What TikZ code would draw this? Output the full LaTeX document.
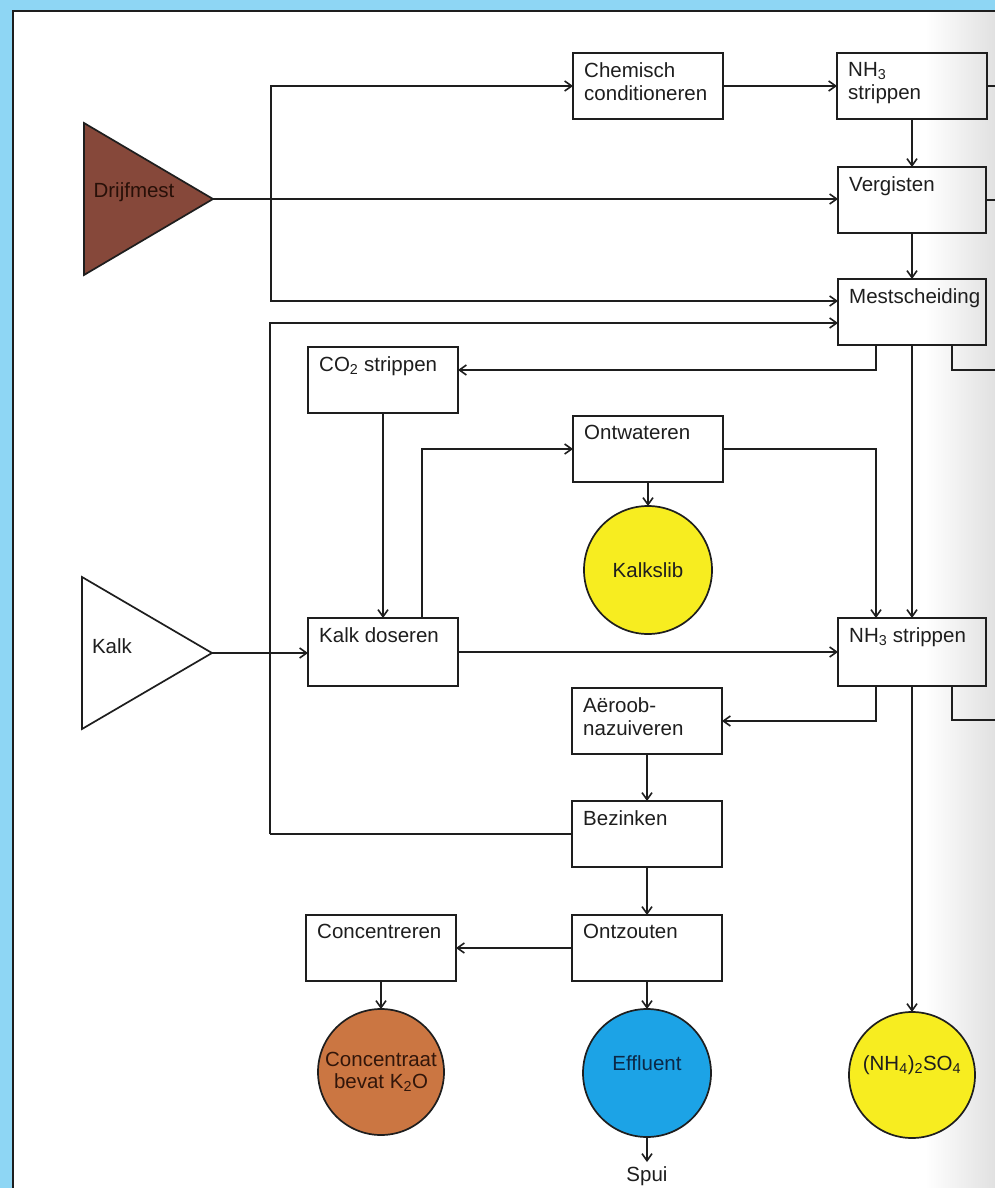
\documentclass[tikz,border=0pt]{standalone}
\usepackage{fontspec}
\setmainfont{Liberation Sans}
\usetikzlibrary{arrows.meta}
\definecolor{sky}{RGB}{142,214,244}
\definecolor{mestbrown}{RGB}{134,72,58}
\definecolor{slibyellow}{RGB}{247,237,32}
\definecolor{concorange}{RGB}{203,118,66}
\definecolor{effblue}{RGB}{28,163,230}
\definecolor{ink}{RGB}{30,30,30}
\tikzset{
  procbox/.style={draw=ink, line width=1.7pt, rectangle, inner sep=0pt, outer sep=0pt,
    minimum width=150pt, minimum height=66pt},
  lbl/.style={anchor=north west, inner sep=0pt, xshift=11pt, yshift=-9pt, align=left,
    font=\fontsize{20.5}{23.5}\selectfont, text=ink},
  blob/.style={draw=ink, line width=1.7pt, circle, inner sep=0pt, outer sep=0pt,
    minimum size=127pt, align=center, font=\fontsize{20.5}{22}\selectfont},
  txt/.style={inner sep=0pt, font=\fontsize{20.5}{23.5}\selectfont, text=ink},
  conn/.style={draw=ink, line width=1.6pt},
  arr/.style={conn, -{Straight Barb[length=7pt,width=10pt]}},
}
\begin{document}
\begin{tikzpicture}[x=1pt,y=-1pt]
\useasboundingbox (0,0) rectangle (995,1188);
\clip (0,0) rectangle (995,1188);
% page background
\fill[sky] (0,0) rectangle (995,1188);
\fill[white] (13,11) rectangle (1010,1200);
\shade[left color=white, right color=black!12] (925,11) rectangle (996,1200);
\draw[line width=1.8pt, ink] (13,1200) -- (13,11) -- (1010,11);

% sources
\draw[line width=1.7pt, draw=ink, fill=mestbrown] (84,123) -- (213,199) -- (84,275) -- cycle;
\coordinate (drtip) at (213,199);
\node[txt, text={rgb,255:red,40;green,16;blue,8}] (drt) at (134,192) {Drijfmest};
\draw[line width=1.7pt, draw=ink, fill=white] (82,577) -- (212,653) -- (82,729) -- cycle;
\coordinate (ktip) at (212,653);
\node[txt] (kt) at (112,646) {Kalk};

% process boxes
\node[procbox, label={[lbl]north west:{Chemisch\\conditioneren}}] (chem) at (648,86) {};
\node[procbox, label={[lbl]north west:{NH\textsubscript{3}\\strippen}}] (nhA) at (912,86) {};
\node[procbox, minimum width=148pt, label={[lbl]north west:{Vergisten}}] (verg) at (912,200) {};
\node[procbox, minimum width=148pt, label={[lbl]north west:{Mestscheiding}}] (mest) at (912,312) {};
\node[procbox, label={[lbl]north west:{CO\textsubscript{2} strippen}}] (co2) at (383,380) {};
\node[procbox, label={[lbl]north west:{Ontwateren}}] (ontw) at (648,449) {};
\node[procbox, minimum height=68pt, label={[lbl]north west:{Kalk doseren}}] (kdos) at (383,652) {};
\node[procbox, minimum width=148pt, minimum height=68pt, label={[lbl]north west:{NH\textsubscript{3} strippen}}] (nhB) at (912,652) {};
\node[procbox, label={[lbl]north west:{Aëroob-\\nazuiveren}}] (aer) at (647,721) {};
\node[procbox, label={[lbl]north west:{Bezinken}}] (bez) at (647,834) {};
\node[procbox, label={[lbl]north west:{Ontzouten}}] (ontz) at (647,948) {};
\node[procbox, label={[lbl]north west:{Concentreren}}] (conc) at (381,948) {};

% products
\node[blob, fill=slibyellow, minimum size=128pt, text=ink] (kslib) at (648,570) {Kalkslib};
\node[blob, fill=concorange, minimum size=126pt, text={rgb,255:red,50;green,22;blue,10}] (concz) at (381,1072) {Concentraat\\bevat K\textsubscript{2}O};
\node[blob, fill=effblue, minimum size=128pt] (effl) at (647,1073) {};
\node[txt, text={rgb,255:red,12;green,40;blue,70}] (efft) at (647,1063) {Effluent};
\node[blob, fill=slibyellow, minimum size=126pt] (nh4) at (912,1075) {};
\node[txt] (nh4t) at (912,1065) {(NH\textsubscript{4})\textsubscript{2}SO\textsubscript{4}};
\node[txt, anchor=north] (spui) at (647,1166) {Spui};

% junctions and edges
\coordinate (jA) at (271,199);
\coordinate (jB) at (270,834);
\coordinate (edgeA) at (1000,370);
\coordinate (edgeB) at (1000,720);

% connectors
\draw[arr] (drtip) -- (drtip -| verg.west);
\draw[arr] (jA) |- (chem.west);
\draw[arr] (jA) |- ([yshift=11pt]mest.west);
\draw[arr] (chem.east) -- (nhA.west);
\draw[arr] (nhA.south) -- (verg.north);
\draw[arr] (verg.south) -- (mest.north);
\draw[conn] (nhA.east) -- (nhA.east -| edgeA);
\draw[conn] (verg.east) -- (verg.east -| edgeA);
\draw[arr] ([xshift=-36pt]mest.south) |- ([yshift=10pt]co2.east);
\draw[arr] (mest.south) -- (nhB.north);
\draw[conn] ([xshift=40pt]mest.south) |- (edgeA);
\draw[arr] (co2.south) -- (kdos.north);
\draw[arr] ([xshift=39pt]kdos.north) |- (ontw.west);
\draw[arr] (ontw.south) -- (kslib.north);
\draw[arr] (ontw.east) -| ([xshift=-36pt]nhB.north);
\draw[arr] (ktip) -- (ktip -| kdos.west);
\draw[arr] (kdos.east) -- (nhB.west);
\draw[arr] ([xshift=-36pt]nhB.south) |- (aer.east);
\draw[arr] (nhB.south) -- (nh4.north);
\draw[conn] ([xshift=40pt]nhB.south) |- (edgeB);
\draw[arr] (aer.south) -- (bez.north);
\draw[conn] (bez.west) -- (jB);
\draw[arr] (jB) |- ([yshift=-11pt]mest.west);
\draw[arr] (bez.south) -- (ontz.north);
\draw[arr] (ontz.west) -- (conc.east);
\draw[arr] (conc.south) -- (concz.north);
\draw[arr] (ontz.south) -- (effl.north);
\draw[arr, shorten >=4pt] (effl.south) -- (spui.north);
\end{tikzpicture}
\end{document}
